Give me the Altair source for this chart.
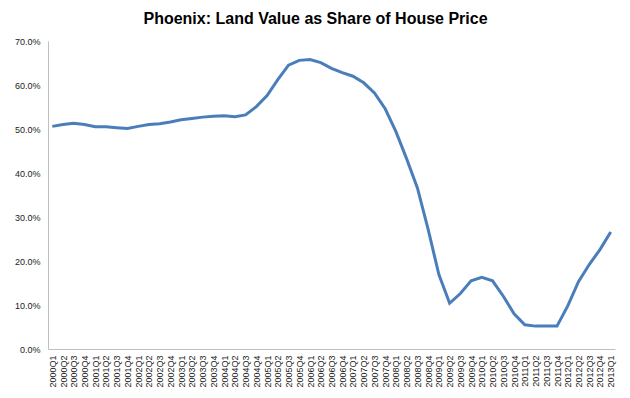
import altair as alt
import pandas as pd

quarters = [f"{y}Q{q}" for y in range(2000, 2013) for q in range(1, 5)] + ["2013Q1"]

land_share_pct = [
    50.6, 51.0, 51.3, 51.0, 50.5, 50.5, 50.3, 50.1,
    50.6, 51.0, 51.2, 51.6, 52.1, 52.4, 52.7, 52.9,
    53.0, 52.8, 53.2, 55.1, 57.6, 61.2, 64.5, 65.6,
    65.8, 65.1, 63.8, 62.8, 62.0, 60.5, 58.2, 54.6,
    49.4, 43.2, 36.6, 27.2, 16.9, 10.4, 12.6, 15.5,
    16.3, 15.5, 12.0, 8.0, 5.5, 5.2, 5.2, 5.2,
    9.8, 15.3, 19.2, 22.6, 26.6,
]

df = pd.DataFrame({
    "quarter": quarters,
    "share": [v / 100 for v in land_share_pct],
})

chart = (
    alt.Chart(df)
    .mark_line(color="#4A7EBB", strokeWidth=3)
    .encode(
        x=alt.X(
            "quarter:N",
            sort=None,
            scale=alt.Scale(type="point", padding=0.4),
            axis=alt.Axis(
                title=None,
                labelAngle=270,
                labelAlign="right",
                labelBaseline="middle",
                labelFontSize=9,
                labelFont="Liberation Sans",
                labelColor="#222222",
                labelPadding=6,
                ticks=False,
                grid=False,
                domainColor="#BFBFBF",
                labelOverlap=False,
            ),
        ),
        y=alt.Y(
            "share:Q",
            scale=alt.Scale(domain=[0, 0.7], nice=False, zero=True),
            axis=alt.Axis(
                title=None,
                format=".1%",
                values=[0, 0.1, 0.2, 0.3, 0.4, 0.5, 0.6, 0.7],
                labelFontSize=9,
                labelFont="Liberation Sans",
                labelColor="#222222",
                labelPadding=8,
                ticks=False,
                grid=False,
                domainColor="#BFBFBF",
            ),
        ),
    )
    .properties(
        width=567,
        height=308,
        title=alt.TitleParams(
            text="Phoenix: Land Value as Share of House Price",
            font="Liberation Sans",
            fontSize=16,
            fontWeight="bold",
            color="#000000",
            anchor="middle",
            dx=-16,
            offset=10,
        ),
        autosize=alt.AutoSizeParams(type="none"),
        padding={"left": 40, "top": 33, "right": 7, "bottom": 45},
    )
    .configure_view(stroke=None)
)

chart.save("out.html", embed_options={"renderer": "svg", "actions": False})
